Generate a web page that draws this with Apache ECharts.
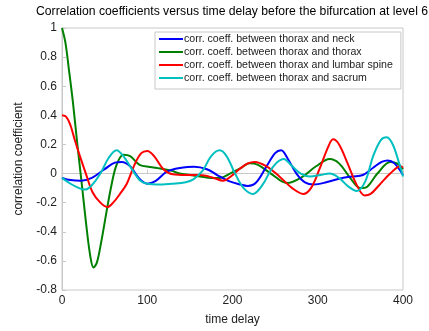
<!DOCTYPE html>
<html><head><meta charset="utf-8">
<script src="https://cdn.jsdelivr.net/npm/echarts@6/dist/echarts.min.js"></script>
<style>html,body{margin:0;padding:0;background:#fff}#c{width:429px;height:331px}</style>
</head><body><div id="c"></div>
<script>
const titleText = 'Correlation coefficients versus time delay before the bifurcation at level 6';
const seriesNames = [
  'corr. coeff. between thorax and neck',
  'corr. coeff. between thorax and thorax',
  'corr. coeff. between thorax and lumbar spine',
  'corr. coeff. between thorax and sacrum'
];
const neck = [[0,-0.03],[10,-0.045],[22,-0.05],[35,-0.03],[50,0.03],[62,0.075],[70,0.08],[80,0.05],[90,-0.03],[100,-0.07],[110,-0.05],[123,0.013],[140,0.04],[155,0.047],[170,0.03],[182,-0.01],[195,-0.05],[209,-0.075],[218,-0.085],[228,-0.06],[240,0.05],[250,0.14],[257,0.16],[265,0.1],[275,0.0],[285,-0.06],[295,-0.075],[310,-0.06],[325,-0.035],[340,-0.02],[353,-0.01],[365,0.04],[375,0.08],[382,0.09],[390,0.07],[400,-0.01]];
const thorax = [[0,1],[4,0.9],[8,0.72],[13,0.48],[18,0.2],[23,-0.06],[28,-0.33],[33,-0.56],[37,-0.645],[41,-0.61],[46,-0.47],[52,-0.27],[58,-0.08],[64,0.06],[72,0.13],[80,0.12],[91,0.06],[103,0.045],[115,0.035],[128,0.02],[138,0.0],[150,-0.01],[162,-0.02],[175,-0.03],[185,-0.03],[197,0.0],[209,0.035],[220,0.07],[230,0.06],[245,0.0],[264,-0.065],[280,-0.03],[298,0.05],[314,0.1],[325,0.07],[338,-0.03],[350,-0.1],[358,-0.09],[370,0.0],[385,0.08],[393,0.07],[400,0.03]];
const lumbar = [[0,0.4],[5,0.39],[10,0.33],[15,0.23],[21,0.12],[28,0.0],[36,-0.13],[45,-0.2],[53,-0.23],[60,-0.2],[68,-0.14],[76,-0.07],[85,0.06],[93,0.14],[100,0.155],[108,0.12],[119,0.03],[130,-0.005],[145,-0.01],[162,-0.01],[178,-0.03],[189,-0.05],[198,-0.02],[209,0.035],[218,0.07],[226,0.08],[240,0.05],[255,-0.02],[270,-0.1],[283,-0.14],[292,-0.1],[302,0.03],[312,0.18],[318,0.235],[325,0.2],[335,0.07],[345,-0.07],[355,-0.15],[362,-0.14],[372,-0.08],[385,0.0],[397,0.05],[400,0.04]];
const sacrum = [[0,-0.03],[10,-0.07],[20,-0.1],[27,-0.11],[35,-0.08],[45,0.0],[55,0.11],[64,0.16],[72,0.12],[82,0.03],[92,-0.05],[100,-0.07],[115,-0.075],[130,-0.07],[145,-0.06],[154,-0.04],[165,0.02],[175,0.12],[185,0.16],[193,0.12],[203,0.0],[213,-0.1],[224,-0.14],[235,-0.08],[248,0.05],[260,0.1],[270,0.05],[280,0.0],[291,-0.02],[303,-0.01],[314,0.0],[325,-0.03],[336,-0.09],[346,-0.12],[356,-0.05],[365,0.12],[374,0.23],[381,0.25],[388,0.2],[395,0.08],[400,-0.02]];
const colors = ['#0000ff','#008000','#ff0000','#00bfbf'];
const allData = [neck, thorax, lumbar, sacrum];

const chart = echarts.init(document.getElementById('c'), null, {renderer:'canvas'});
const font = 'Liberation Sans, Arial, sans-serif';
chart.setOption({
  backgroundColor: '#fff',
  animation: false,
  graphic: [{type:'text', x: 232, y: 12, style:{text:titleText, font:'12.2px ' + font, fill:'#000', align:'center', verticalAlign:'middle'}}],
  grid: {left:62, right:26, top:28, bottom:35, show:true, borderColor:'#c8c8c8', borderWidth:1, backgroundColor:'#fff'},
  legend: {
    orient:'vertical', left:155, top:32, data: seriesNames.map(n=>({name:n, icon:'rect'})),
    backgroundColor:'#fff', borderColor:'#c8c8c8', borderWidth:1, borderRadius:0,
    padding:[1,8,5,4], itemGap:1, itemWidth:24, itemHeight:2,
    textStyle:{fontSize:10.6, fontFamily:font, color:'#222', lineHeight:12, padding:[0,0,0,-4]}
  },
  xAxis: {
    type:'value', min:0, max:400, interval:100,
    name:'time delay', nameLocation:'middle', nameGap:24,
    nameTextStyle:{fontSize:12, fontFamily:font, color:'#222'},
    axisLine:{show:true, lineStyle:{color:'#c8c8c8'}},
    axisTick:{show:true, inside:true, length:4, lineStyle:{color:'#c8c8c8'}},
    axisLabel:{fontSize:12, fontFamily:font, color:'#222', margin:5},
    splitLine:{show:false}
  },
  yAxis: {
    type:'value', min:-0.8, max:1, interval:0.2,
    name:'correlation coefficient', nameLocation:'middle', nameGap:37, nameRotate:90,
    nameTextStyle:{fontSize:12, fontFamily:font, color:'#222'},
    axisLine:{show:true, lineStyle:{color:'#c8c8c8'}},
    axisTick:{show:true, inside:true, length:4, lineStyle:{color:'#c8c8c8'}},
    axisLabel:{fontSize:12, fontFamily:font, color:'#222', margin:5,
      formatter: v => String(Math.round(v*10)/10)},
    splitLine:{show:false}
  },
  series: seriesNames.map((n,i)=>({
    name:n, type:'line', data: allData[i], smooth:0.35, symbol:'none',
    lineStyle:{width:2, color:colors[i]}, itemStyle:{color:colors[i]}, z: [2,1,3,4][i]
  }))
});
</script></body></html>
